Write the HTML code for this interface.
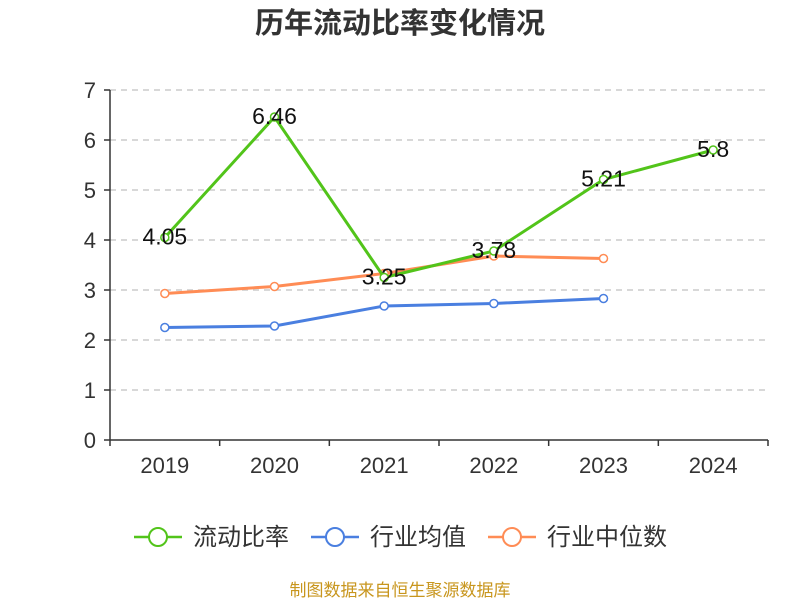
<!DOCTYPE html>
<html><head><meta charset="utf-8"><style>
body{margin:0;background:#fff;width:800px;height:600px;overflow:hidden;font-family:"Liberation Sans","Noto Sans CJK SC",sans-serif}
</style></head><body>
<svg id="c" width="800" height="600" style="font-family:'Liberation Sans','Noto Sans CJK SC',sans-serif">
<text x="400" y="33" text-anchor="middle" font-size="29" font-weight="bold" fill="#333">历年流动比率变化情况</text>
<g id="grid"></g><g id="axes"></g><g id="series"></g>
<g>
<g><line x1="134" y1="537" x2="182" y2="537" stroke="#52c41a" stroke-width="2.5"/><circle cx="158" cy="537" r="9" fill="#fff" stroke="#52c41a" stroke-width="2"/><text x="193" y="545" font-size="24" fill="#333">流动比率</text></g>
<g><line x1="311" y1="537" x2="359" y2="537" stroke="#4a7fe0" stroke-width="2.5"/><circle cx="335" cy="537" r="9" fill="#fff" stroke="#4a7fe0" stroke-width="2"/><text x="370" y="545" font-size="24" fill="#333">行业均值</text></g>
<g><line x1="488" y1="537" x2="536" y2="537" stroke="#ff8c55" stroke-width="2.5"/><circle cx="512" cy="537" r="9" fill="#fff" stroke="#ff8c55" stroke-width="2"/><text x="547" y="545" font-size="24" fill="#333">行业中位数</text></g>
</g>
<text x="400" y="596" text-anchor="middle" font-size="17" fill="#c8961e">制图数据来自恒生聚源数据库</text>
</svg>
<script>
const categories=["2019","2020","2021","2022","2023","2024"];
const ratio=[4.05,6.46,3.25,3.78,5.21,5.8];
const industryMean=[2.25,2.28,2.68,2.73,2.83];
const industryMedian=[2.93,3.07,3.33,3.68,3.63];
const yTicks=[0,1,2,3,4,5,6,7];
const NS="http://www.w3.org/2000/svg";
const x0=110,x1=768,yb=440,yt=90,ymax=7;
const bw=(x1-x0)/categories.length;
const X=i=>x0+bw*(i+0.5);
const Y=v=>yb-(v/ymax)*(yb-yt);
function mk(t,a,p){const e=document.createElementNS(NS,t);for(const k in a)e.setAttribute(k,a[k]);p.appendChild(e);return e;}
const grid=document.getElementById('grid'),axes=document.getElementById('axes'),ser=document.getElementById('series');
yTicks.forEach(v=>{
 if(v>0){const l=mk('line',{x1:x0,x2:x1,y1:Y(v),y2:Y(v),stroke:'#ccc','stroke-width':1.5,'stroke-dasharray':'6,5'},grid);
 
 }
 const tk=mk('line',{x1:x0-6,x2:x0,y1:Y(v),y2:Y(v),stroke:'#333','stroke-width':1.5},axes);
 
 
 const t=mk('text',{x:x0-14,y:Y(v)+8,'text-anchor':'end','font-size':22,fill:'#333'},axes);t.textContent=v;
 
 
});
const ya=mk('line',{x1:x0,x2:x0,y1:yt,y2:yb,stroke:'#333','stroke-width':1.5},axes);


const xa=mk('line',{x1:x0,x2:x1,y1:yb,y2:yb,stroke:'#333','stroke-width':1.5},axes);


for(let i=0;i<=categories.length;i++){const tk=mk('line',{x1:x0+bw*i,x2:x0+bw*i,y1:yb,y2:yb+6,stroke:'#333','stroke-width':1.5},axes);
 
 }
categories.forEach((c,i)=>{const t=mk('text',{x:X(i),y:473,'text-anchor':'middle','font-size':22,fill:'#333'},axes);t.textContent=c;
 
 });
function line(data,color,name){
 const g=mk('g',{},ser);
 
 
 const p=mk('polyline',{points:data.map((v,i)=>X(i)+','+Y(v)).join(' '),fill:'none',stroke:color,'stroke-width':3},g);
 
 
 data.forEach((v,i)=>{const c=mk('circle',{cx:X(i),cy:Y(v),r:4,fill:'#fff',stroke:color,'stroke-width':1.5},g);
  
  });
 return g;
}
line(industryMean,'#4a7fe0','industry-mean');
line(industryMedian,'#ff8c55','industry-median');
const gr=line(ratio,'#52c41a','current-ratio');
ratio.forEach((v,i)=>{const t=mk('text',{x:X(i),y:Y(v)+7,'text-anchor':'middle','font-size':23,fill:'#111'},gr);t.textContent=v;
 
 });
</script>
</body></html>
